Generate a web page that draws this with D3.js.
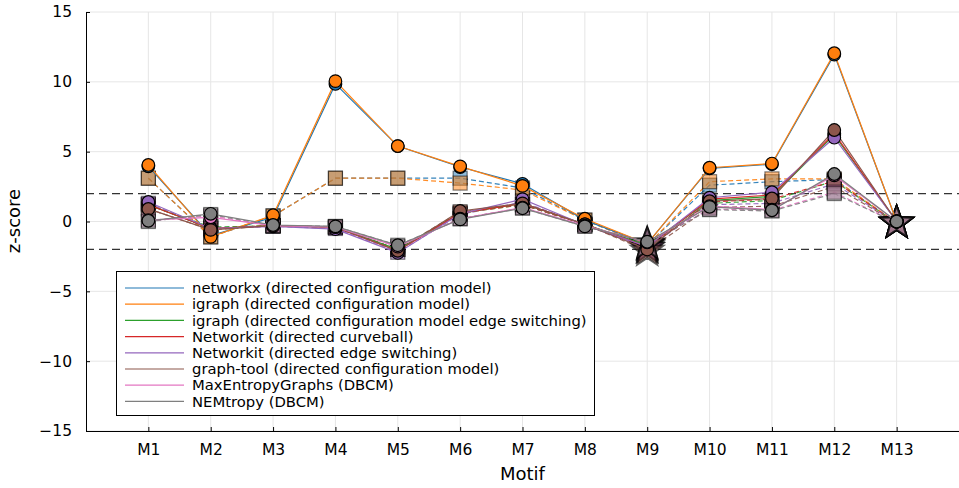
<!DOCTYPE html>
<html><head><meta charset="utf-8">
<script src="https://cdn.jsdelivr.net/npm/d3@7"></script>
<style>body{margin:0;background:#fff}svg{font-family:"DejaVu Sans",sans-serif}</style>
</head><body><svg id="c" width="959" height="488"></svg>
<script>
const motifs = ["M1","M2","M3","M4","M5","M6","M7","M8","M9","M10","M11","M12","M13"];
const seriesNames = ["networkx (directed configuration model)","igraph (directed configuration model)","igraph (directed configuration model edge switching)","Networkit (directed curveball)","Networkit (directed edge switching)","graph-tool (directed configuration model)","MaxEntropyGraphs (DBCM)","NEMtropy (DBCM)"];
const seriesColors = ["#1f77b4","#ff7f0e","#2ca02c","#d62728","#9467bd","#8c564b","#e377c2","#7f7f7f"];
// solid lines with circle markers
const circleValues = [
  [3.95,-1.0,0.3,9.85,5.4,3.9,2.7,0.1,-1.6,3.8,4.1,11.95,0],
  [4.05,-1.1,0.45,10.05,5.4,3.95,2.55,0.2,-1.6,3.85,4.15,12.05,0],
  [1.2,-0.5,-0.3,-0.4,-2.0,0.6,1.3,-0.2,-1.7,1.5,1.8,6.2,0],
  [1.2,-0.5,-0.3,-0.4,-2.1,0.6,1.3,-0.2,-1.8,1.6,1.9,6.3,0],
  [1.4,-0.5,-0.35,-0.55,-2.25,0.55,1.6,-0.25,-1.8,1.7,2.1,6.0,0],
  [0.9,-0.6,-0.3,-0.4,-2.1,0.75,1.3,-0.2,-2.0,1.45,1.65,6.55,0],
  [0.1,0.3,-0.3,-0.4,-1.8,0.2,1.0,-0.3,-1.5,1.1,0.85,3.3,0],
  [0.05,0.55,-0.25,-0.35,-1.7,0.15,0.95,-0.35,-1.45,1.05,0.8,3.4,0]
];
// dashed lines with square markers
const squareValues = [
  [3.1,-1.1,0.4,3.1,3.1,3.1,2.4,0.1,-1.7,2.6,2.85,3.0,-0.1],
  [3.1,-1.1,0.4,3.1,3.1,2.75,2.25,0.1,-1.7,2.85,3.05,3.05,-0.1],
  [1.2,-0.4,-0.3,-0.4,-2.0,0.6,1.2,-0.2,-1.8,1.3,1.5,2.9,-0.1],
  [1.2,-0.5,-0.3,-0.4,-2.0,0.6,1.2,-0.2,-1.9,1.4,1.6,2.9,-0.1],
  [1.3,-0.5,-0.35,-0.5,-2.2,0.5,1.4,-0.25,-1.9,1.2,1.3,2.7,-0.1],
  [0.9,-0.6,-0.3,-0.4,-2.0,0.7,1.2,-0.2,-2.1,1.0,1.1,2.5,-0.1],
  [0.1,0.4,-0.3,-0.4,-1.8,0.2,1.0,-0.3,-1.6,0.9,0.8,2.1,-0.1],
  [0.0,0.5,-0.3,-0.35,-1.7,0.2,0.95,-0.35,-1.6,0.85,0.75,2.0,-0.1]
];
const starMotifs = ["M9","M13"];
const yTicks = [-15,-10,-5,0,5,10,15];
const thresholds = [2,-2];

const svg = d3.select("#c");
const L=86, R=959, T=12, B=431;
const x = d3.scaleLinear().domain([0,14]).range([L,R]);
const y = d3.scaleLinear().domain([-15,15]).range([B,T]);
const xi = m => x(motifs.indexOf(m)+1);

// grid
const g = svg.append("g");
g.selectAll(".gx").data(motifs).join("line").attr("x1",xi).attr("x2",xi).attr("y1",T).attr("y2",B).attr("stroke","#e6e6e6").attr("stroke-width",1);
g.selectAll(".gy").data(yTicks).join("line").attr("x1",L).attr("x2",R).attr("y1",d=>y(d)).attr("y2",d=>y(d)).attr("stroke","#e6e6e6").attr("stroke-width",1);

// thresholds
svg.selectAll(".th").data(thresholds).join("line").attr("x1",L).attr("x2",R).attr("y1",d=>y(d)).attr("y2",d=>y(d)).attr("stroke","#333").attr("stroke-width",1.2).attr("stroke-dasharray","8,5");

// axes
const xAxis = d3.axisBottom(x).tickValues(d3.range(1,14)).tickFormat(i=>motifs[i-1]).tickSizeInner(-4).tickSizeOuter(0).tickPadding(14);
const yAxis = d3.axisLeft(y).tickValues(yTicks).tickFormat(d=>d<0?"\u2212"+Math.abs(d):d).tickSizeInner(-4).tickSizeOuter(0).tickPadding(14);
const gx = svg.append("g").attr("transform",`translate(0,${B})`).call(xAxis);
const gy = svg.append("g").attr("transform",`translate(${L},0)`).call(yAxis);
[gx,gy].forEach(a=>{a.select(".domain").attr("stroke","#000").attr("stroke-width",1);a.selectAll(".tick line").attr("stroke","#000");a.selectAll("text").attr("font-size",15.5).attr("fill","#000").attr("font-family","DejaVu Sans, sans-serif");});
gx.selectAll("text").attr("dy","0.71em").attr("y",13);
svg.append("text").attr("x",(L+R)/2).attr("y",480).attr("text-anchor","middle").attr("font-size",18).text("Motif");
svg.append("text").attr("transform","translate(14,221) rotate(-90)").attr("text-anchor","middle").attr("dy","0.35em").attr("font-size",18).text("z-score");

function starPath(cx,cy,ro,ri){
  const pts=[];
  for(let k=0;k<10;k++){const r=k%2?ri:ro;const a=-Math.PI/2+k*Math.PI/5;pts.push([cx+r*Math.cos(a),cy+r*Math.sin(a)]);}
  return "M"+pts.map(p=>p.join(",")).join("L")+"Z";
}
const line = d3.line().x((d,i)=>x(i+1)).y(d=>y(d));
const plot = svg.append("g");
// dashed square series
squareValues.forEach((vals,s)=>{
  plot.append("path").attr("d",line(vals)).attr("fill","none").attr("stroke",seriesColors[s]).attr("stroke-width",1.2).attr("stroke-dasharray","5,3").attr("opacity",0.9);
});
squareValues.forEach((vals,s)=>{
  vals.forEach((v,i)=>{
    const m = motifs[i];
    if(starMotifs.includes(m)){
      plot.append("path").attr("d",starPath(x(i+1),y(v),17,7)).attr("fill",seriesColors[s]).attr("fill-opacity",0.5).attr("stroke","#000").attr("stroke-opacity",0.6).attr("stroke-width",2);
    } else {
      plot.append("rect").attr("x",x(i+1)-7).attr("y",y(v)-7).attr("width",14).attr("height",14).attr("fill",seriesColors[s]).attr("fill-opacity",0.5).attr("stroke","#000").attr("stroke-opacity",0.5).attr("stroke-width",1.2);
    }
  });
});
// solid circle series
circleValues.forEach((vals,s)=>{
  plot.append("path").attr("d",line(vals)).attr("fill","none").attr("stroke",seriesColors[s]).attr("stroke-width",1.2);
});
circleValues.forEach((vals,s)=>{
  plot.selectAll(null).data(vals).join("circle").attr("cx",(d,i)=>x(i+1)).attr("cy",d=>y(d)).attr("r",6.3).attr("fill",seriesColors[s]).attr("stroke","#000").attr("stroke-width",1.2);
});

// legend
const lg = svg.append("g");
lg.append("rect").attr("x",116.5).attr("y",271.5).attr("width",478).attr("height",144).attr("fill","#fff").attr("stroke","#000").attr("stroke-width",1);
seriesNames.forEach((n,s)=>{
  const yy = 288 + s*16.2;
  lg.append("line").attr("x1",125).attr("x2",184).attr("y1",yy).attr("y2",yy).attr("stroke",seriesColors[s]).attr("stroke-width",1.2);
  lg.append("text").attr("x",192).attr("y",yy).attr("dy","0.35em").attr("font-size",14.8).text(n);
});
</script></body></html>
